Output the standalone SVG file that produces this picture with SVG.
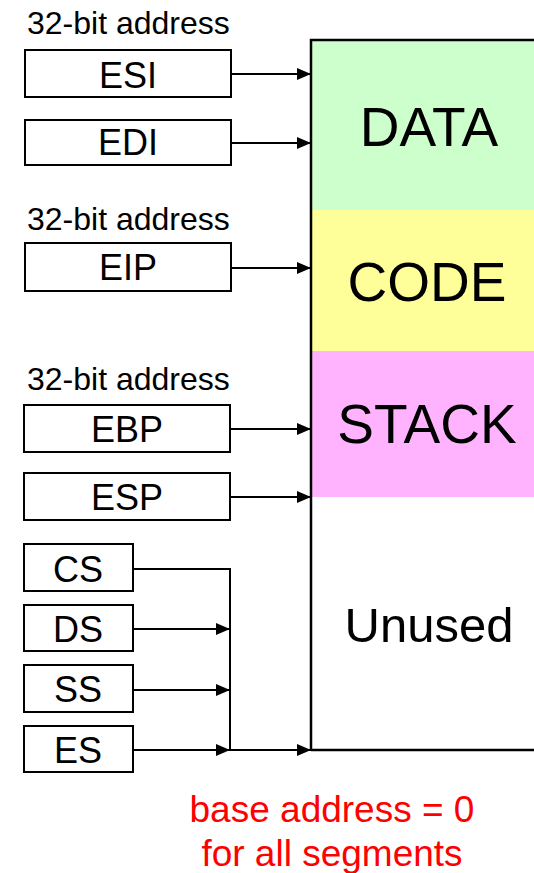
<svg xmlns="http://www.w3.org/2000/svg" width="534" height="873" viewBox="0 0 534 873">
<style>
text{font-family:"Liberation Sans",Arial,sans-serif;fill:#000}
.reg rect{fill:#fff;stroke:#000;stroke-width:2}
.reg text{font-size:36px;text-anchor:middle}
.cap{font-size:32px}
.seg{font-size:55px;text-anchor:middle}
.conn{stroke:#000;stroke-width:2;fill:none}
.red{fill:#ff0000;font-size:37px;text-anchor:middle}
</style>
<defs>
<marker id="ah" markerWidth="14" markerHeight="12" refX="14" refY="6" orient="auto" markerUnits="userSpaceOnUse">
<path d="M0,0 L14,6 L0,12 Z" fill="#000"/>
</marker>
</defs>
<g id="memory">
<rect x="311" y="40" width="224" height="170" fill="#ccffcc"/>
<rect x="311" y="210" width="224" height="141" fill="#ffff99"/>
<rect x="311" y="351" width="224" height="146" fill="#ffb3ff"/>
<path d="M535,40 H311 V750" stroke="#000" stroke-width="2.5" fill="none"/>
<text class="seg" x="429" y="146">DATA</text>
<text class="seg" x="427" y="301">CODE</text>
<text class="seg" x="427" y="443">STACK</text>
<text class="seg" x="429" y="642" style="font-size:49px">Unused</text>
</g>
<text class="cap" x="27" y="34">32-bit address</text>
<text class="cap" x="27" y="230">32-bit address</text>
<text class="cap" x="27" y="390">32-bit address</text>
<g id="ESI" class="reg"><rect x="25" y="50" width="206" height="47"/><text x="128" y="88">ESI</text></g>
<g id="EDI" class="reg"><rect x="25" y="120" width="206" height="45"/><text x="128" y="155">EDI</text></g>
<g id="EIP" class="reg"><rect x="25" y="243" width="206" height="48"/><text x="128" y="280">EIP</text></g>
<g id="EBP" class="reg"><rect x="24" y="405" width="206" height="47"/><text x="127" y="442">EBP</text></g>
<g id="ESP" class="reg"><rect x="24" y="473" width="206" height="47"/><text x="127" y="510">ESP</text></g>
<g id="CS" class="reg"><rect x="24" y="544" width="109" height="47"/><text x="78" y="582">CS</text></g>
<g id="DS" class="reg"><rect x="24" y="605" width="109" height="46"/><text x="78" y="642">DS</text></g>
<g id="SS" class="reg"><rect x="24" y="665" width="109" height="47"/><text x="78" y="702">SS</text></g>
<g id="ES" class="reg"><rect x="24" y="726" width="109" height="46"/><text x="78" y="763">ES</text></g>
<g id="connectors" class="conn">
<path d="M231,74 H311" marker-end="url(#ah)"/>
<path d="M231,143 H311" marker-end="url(#ah)"/>
<path d="M231,268 H311" marker-end="url(#ah)"/>
<path d="M230,429 H311" marker-end="url(#ah)"/>
<path d="M230,497 H311" marker-end="url(#ah)"/>
<path d="M133,569 H230 V750"/>
<path d="M133,629 H230" marker-end="url(#ah)"/>
<path d="M133,690 H230" marker-end="url(#ah)"/>
<path d="M133,750 H230" marker-end="url(#ah)"/>
<path d="M230,750 H311" marker-end="url(#ah)"/>
<path d="M311,750 H535" stroke-width="2.5"/>
</g>
<text class="red" x="332" y="822">base address = 0</text>
<text class="red" x="332" y="866">for all segments</text>
</svg>
